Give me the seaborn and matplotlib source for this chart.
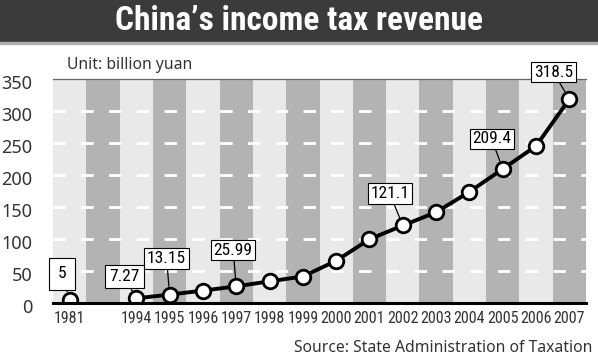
import numpy as np
import pandas as pd
import seaborn as sb
from matplotlib import pyplot as plt
from matplotlib.patches import Rectangle
from matplotlib.transforms import ScaledTranslation

years = ['1981', '', '1994', '1995', '1996', '1997', '1998', '1999', '2000',
         '2001', '2002', '2003', '2004', '2005', '2006', '2007']
revenue = [5, np.nan, 7.27, 13.15, 19.32, 25.99, 33.86, 41.4, 65.96,
           99.6, 121.1, 141.8, 173.7, 209.4, 245.3, 318.5]
labelled = ['1981', '1994', '1995', '1997', '2002', '2005', '2007']
label_text = ['5', '7.27', '13.15', '25.99', '121.1', '209.4', '318.5']
yticks = [0, 50, 100, 150, 200, 250, 300, 350]

df = pd.DataFrame({'year': years, 'revenue': revenue})
df['pos'] = range(len(df))

sb.set_style('white')
plt.rcParams['font.family'] = ['Roboto Condensed', 'DejaVu Sans']

fig = plt.figure(figsize=(5.98, 3.61), dpi=100)
ax = fig.add_axes([53 / 598, 1 - 303 / 361, 533 / 598, 224 / 361])

# title bar
fig.patches.append(Rectangle((0, 1 - 42 / 361), 1, 42 / 361, transform=fig.transFigure,
                             color='#3b3b3b', zorder=0))
fig.patches.append(Rectangle((0, 1 - 44 / 361), 1, 2 / 361, transform=fig.transFigure,
                             color='#b0b0b0', zorder=0))
fig.text(0.5, 1 - 21 / 361, 'China\u2019s income tax revenue', color='white',
         ha='center', va='center', fontsize=24, fontweight='heavy')

# stripes
for i in df['pos']:
    ax.axvspan(i - 0.5, i + 0.5, color='#e9e9e9' if i % 2 == 0 else '#b3b3b3', zorder=0, lw=0)

for v in yticks[1:-1]:
    ax.axhline(v, color='white', lw=2, dashes=(4.5, 5.5), zorder=1)

line_df = df[df['pos'] >= 2]
sb.lineplot(data=line_df, x='pos', y='revenue', color='black', lw=2.8, ax=ax, zorder=3)
sb.scatterplot(data=df.dropna(), x='pos', y='revenue', s=110, color='white',
               edgecolor='black', linewidth=2, ax=ax, zorder=4)

offsets = [(-8, 26), (-12, 22), (-3, 36), (-3, 36), (-13, 32), (-11, 30), (-16, 27)]
pads = [0.5, 0.25, 0.15, 0.15, 0.15, 0.15, 0.15]
for yr, txt, off, pd_ in zip(labelled, label_text, offsets, pads):
    row = df[df['year'] == yr].iloc[0]
    ax.annotate(txt, (row['pos'], row['revenue']), xytext=off, textcoords='offset pixels',
                ha='center', va='center', fontsize=12.5, color='black', zorder=6,
                bbox=dict(boxstyle='square,pad=%s' % pd_, fc='white', ec='black', lw=0.8),
                arrowprops=dict(arrowstyle='-', color='black', lw=0.9, shrinkA=0, shrinkB=6))

ax.set_xlim(-0.5, len(df) - 0.5)
ax.set_ylim(0, 350)
ax.set_xticks(df['pos'])
ax.set_xticklabels(years, fontsize=11.5, color='#333333')
ax.set_xticks(np.arange(len(df) + 1) - 0.5, minor=True)
ax.tick_params(axis='x', which='major', length=0, pad=6)
ax.tick_params(axis='x', which='minor', direction='in', length=5, width=1.5, color='black')
ax.set_yticks(yticks)
ax.set_yticklabels([str(v) for v in yticks], fontsize=13, color='#333333',
                   family=['Noto Sans', 'DejaVu Sans'])
ax.tick_params(axis='y', length=0, pad=15)
shift = ScaledTranslation(0, -3 / 100, fig.dpi_scale_trans)
for lbl in ax.get_yticklabels():
    lbl.set_transform(lbl.get_transform() + shift)
ax.set_xlabel('')
ax.set_ylabel('')

for s in ['left', 'right']:
    ax.spines[s].set_visible(False)
ax.spines['bottom'].set_color('black')
ax.spines['bottom'].set_linewidth(2.2)
ax.spines['bottom'].set_zorder(5)
ax.spines['top'].set_color('#666666')
ax.spines['top'].set_linewidth(0.9)

fig.text(67 / 598, 1 - 65 / 361, 'Unit: billion yuan', fontsize=11.3, color='#333333',
         va='center', ha='left', family=['Noto Sans', 'DejaVu Sans'])
fig.text(592 / 598, 1 - 348 / 361, 'Source: State Administration of Taxation', fontsize=11.3,
         color='#333333', va='center', ha='right', family=['Noto Sans', 'DejaVu Sans'])

fig.savefig('out.png', dpi=100)
